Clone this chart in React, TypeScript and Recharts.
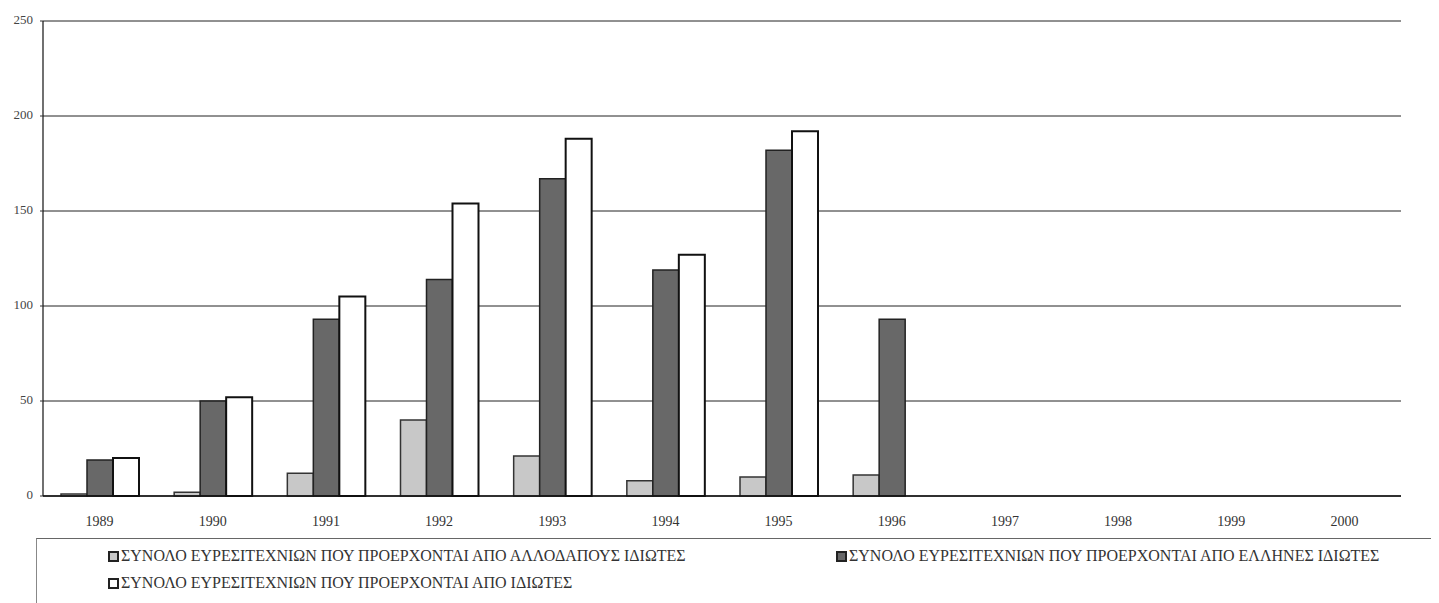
import React from 'react';
import { BarChart, Bar, XAxis, YAxis, CartesianGrid, Legend } from 'recharts';

const YEARS = ['1989', '1990', '1991', '1992', '1993', '1994', '1995', '1996', '1997', '1998', '1999', '2000'];
const FOREIGN = [1, 2, 12, 40, 21, 8, 10, 11, null, null, null, null];
const GREEK = [19, 50, 93, 114, 167, 119, 182, 93, null, null, null, null];
const TOTAL = [20, 52, 105, 154, 188, 127, 192, null, null, null, null, null];
const Y_TICKS = [0, 50, 100, 150, 200, 250];
const SERIES_NAMES = [
  'ΣΥΝΟΛΟ ΕΥΡΕΣΙΤΕΧΝΙΩΝ ΠΟΥ ΠΡΟΕΡΧΟΝΤΑΙ ΑΠΟ ΑΛΛΟΔΑΠΟΥΣ ΙΔΙΩΤΕΣ',
  'ΣΥΝΟΛΟ ΕΥΡΕΣΙΤΕΧΝΙΩΝ ΠΟΥ ΠΡΟΕΡΧΟΝΤΑΙ ΑΠΟ ΕΛΛΗΝΕΣ ΙΔΙΩΤΕΣ',
  'ΣΥΝΟΛΟ ΕΥΡΕΣΙΤΕΧΝΙΩΝ ΠΟΥ ΠΡΟΕΡΧΟΝΤΑΙ ΑΠΟ ΙΔΙΩΤΕΣ',
];
const COLORS = ['#c8c8c8', '#686868', '#ffffff'];

const data = YEARS.map((y, i) => ({
  year: y,
  foreign: FOREIGN[i],
  greek: GREEK[i],
  total: TOTAL[i],
}));

const FONT = "'Liberation Serif', 'Times New Roman', 'DejaVu Serif', serif";

const XTick = (props: any) => {
  const { x, y, payload } = props;
  return (
    <text x={x} y={y + 22} textAnchor="middle" style={{ fontFamily: FONT }} fontSize={14} fill="#333">
      {payload.value}
    </text>
  );
};

const YTick = (props: any) => {
  const { x, y, payload } = props;
  return (
    <text x={x} y={y} dy={3} textAnchor="end" style={{ fontFamily: FONT }} fontSize={13} fill="#444">
      {payload.value}
    </text>
  );
};

const LegendContent = () => {
  const item = (idx: number, left: number, top: number) => (
    <div
      key={idx}
      style={{
        position: 'absolute',
        left,
        top,
        display: 'flex',
        alignItems: 'center',
        fontFamily: FONT,
        fontSize: 16,
        lineHeight: '18px',
        color: '#333',
        whiteSpace: 'nowrap',
      }}
    >
      <span
        style={{
          display: 'inline-block',
          width: 7,
          height: 7,
          border: '2px solid #222',
          background: COLORS[idx],
          marginRight: 2,
        }}
      />
      {SERIES_NAMES[idx]}
    </div>
  );
  return (
    <div
      style={{
        position: 'relative',
        height: 65,
        borderTop: '1px solid #666',
        borderLeft: '1px solid #888',
      }}
    >
      {item(0, 71, 8)}
      {item(1, 799, 8)}
      {item(2, 71, 35)}
    </div>
  );
};

export default function App() {
  return (
    <div style={{ width: 1431, height: 595, background: '#fff', fontFamily: FONT }}>
      <BarChart
        width={1431}
        height={595}
        data={data}
        margin={{ top: 13, right: 38, left: 0, bottom: 1 }}
        barSize={26}
        barGap={0}
      >
        <CartesianGrid vertical={false} stroke="#222" strokeWidth={1} />
        <XAxis
          dataKey="year"
          axisLine={{ stroke: '#111', strokeWidth: 1.5 }}
          tickLine={false}
          tick={<XTick />}
          interval={0}
          height={40}
        />
        <YAxis
          width={35}
          domain={[0, 250]}
          ticks={Y_TICKS}
          interval={0}
          axisLine={{ stroke: '#111', strokeWidth: 1.2 }}
          tickLine={{ stroke: '#333' }}
          tickSize={3}
          tickMargin={7}
          tick={<YTick />}
        />
        <Legend
          verticalAlign="bottom"
          content={<LegendContent />}
          wrapperStyle={{ left: 28, top: 530, width: 1403, bottom: 'auto' }}
        />
        <Bar dataKey="foreign" name={SERIES_NAMES[0]} fill={COLORS[0]} stroke="#333" strokeWidth={1.5} isAnimationActive={false} />
        <Bar dataKey="greek" name={SERIES_NAMES[1]} fill={COLORS[1]} stroke="#222" strokeWidth={1.5} isAnimationActive={false} />
        <Bar dataKey="total" name={SERIES_NAMES[2]} fill={COLORS[2]} stroke="#111" strokeWidth={2} isAnimationActive={false} />
      </BarChart>
    </div>
  );
}
